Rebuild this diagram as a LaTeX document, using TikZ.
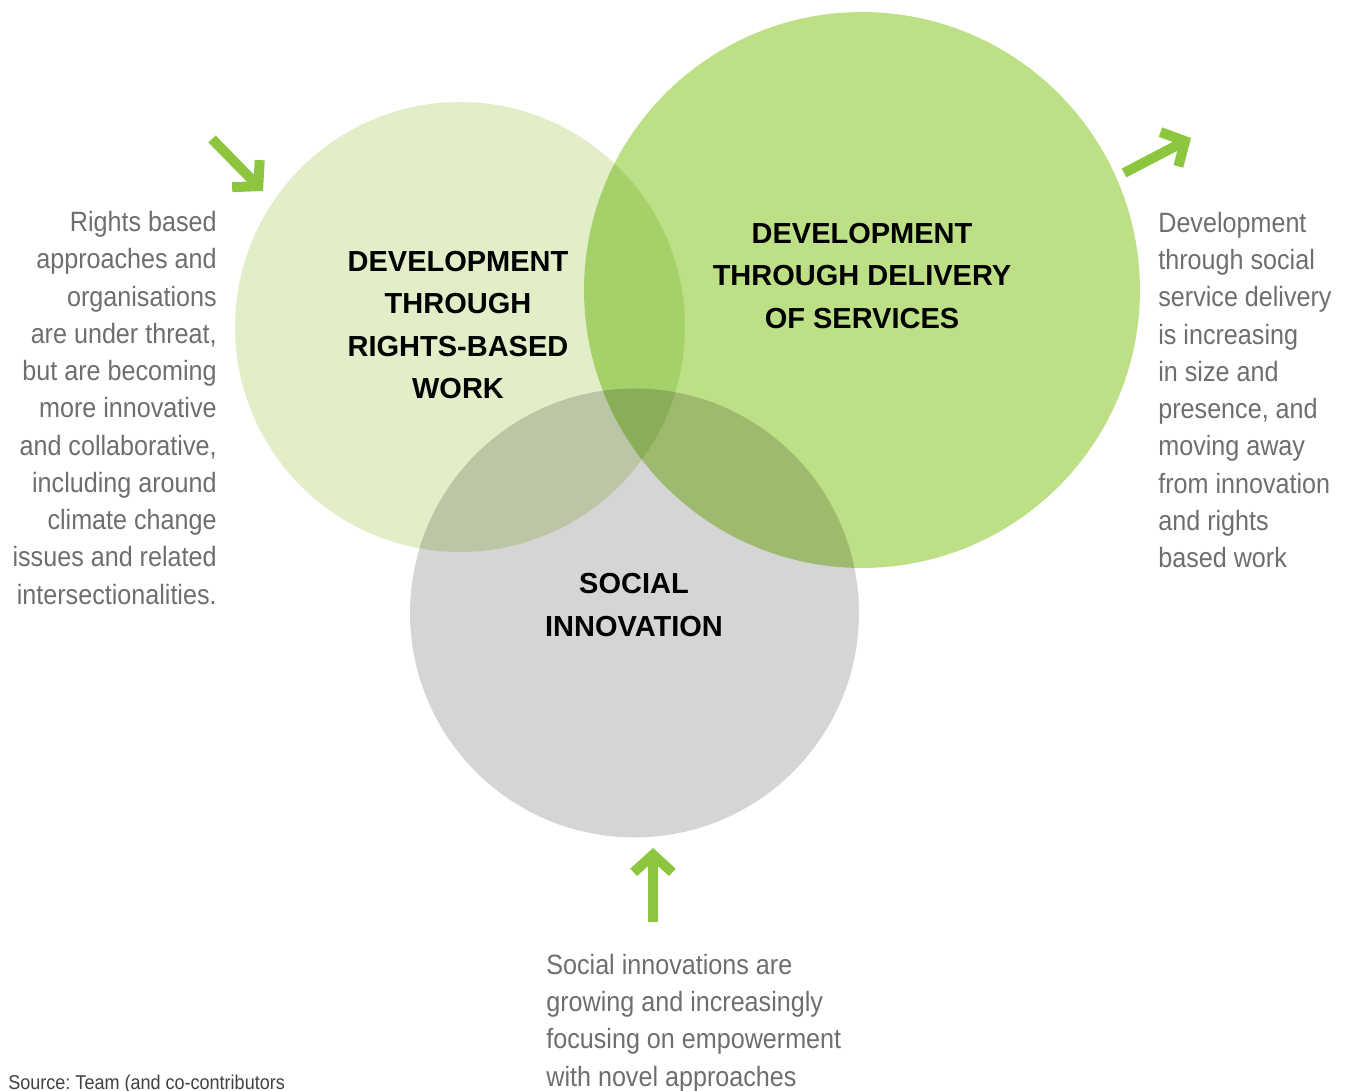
\documentclass[tikz,border=0pt]{standalone}
\usepackage{fontspec}
\setmainfont{Liberation Sans}
\newfontfamily\notefont[FakeStretch=0.9]{Liberation Sans}
\usetikzlibrary{positioning, arrows.meta}
\definecolor{rights_green}{RGB}{225, 238, 200}
\definecolor{services_green}{RGB}{189, 223, 134}
\definecolor{innovation_grey}{RGB}{213, 213, 213}
\definecolor{arrow_green}{RGB}{140, 198, 63}
\definecolor{note_grey}{RGB}{109, 110, 113}
\tikzstyle{venn}=[circle, inner sep=0pt]
\tikzstyle{heading}=[font=\bfseries\fontsize{16.5}{24.2}\selectfont, align=center, text=black, inner sep=0pt]
\tikzstyle{note}=[font=\notefont\fontsize{15.9}{21.2}\selectfont, text=note_grey, inner sep=0pt]
\tikzstyle{trend}=[draw=arrow_green, line width=5.7pt, -{Straight Barb[length=10pt, width=22pt]}]

\begin{document}
\begin{tikzpicture}[x=0.02cm, y=-0.02cm]
    \useasboundingbox (0, 0) rectangle (1346, 1091);
    % the three fields, overlaps come from multiplying the fills
    \begin{scope}[blend group=multiply]
        \node[venn, fill=rights_green, minimum size=9cm] (rights) at (460, 327) {};
        \node[venn, fill=services_green, minimum size=11.12cm] (services) at (862, 290) {};
        \node[venn, fill=innovation_grey, minimum size=8.98cm] (innovation) at (634.5, 613) {};
    \end{scope}
    \node[heading] (rights_label) at (458, 325) {DEVELOPMENT\\THROUGH\\RIGHTS-BASED\\WORK};
    \node[heading] (services_label) at (862, 276) {DEVELOPMENT\\THROUGH DELIVERY\\OF SERVICES};
    \node[heading] (innovation_label) at (634, 605) {SOCIAL\\INNOVATION};
    % trends
    \node[note, anchor=east, align=right] (rights_note) at (217, 408) {Rights based\\approaches and\\organisations\\are under threat,\\but are becoming\\more innovative\\and collaborative,\\including around\\climate change\\issues and related\\intersectionalities.};
    \node[note, anchor=west, align=left] (services_note) at (1158, 390) {Development\\through social\\service delivery\\is increasing\\in size and\\presence, and\\moving away\\from innovation\\and rights\\based work};
    \node[note, anchor=west, align=left] (innovation_note) at (546, 1023) {Social innovations are\\growing and increasingly\\focusing on empowerment\\with novel approaches};
    \coordinate (rights_tail) at (212, 139);
    \coordinate (rights_tip) at (263, 191);
    \coordinate (services_tail) at (1124, 173);
    \coordinate (services_tip) at (1191, 138);
    \coordinate (innovation_tail) at (653, 922);
    \coordinate (innovation_tip) at (653, 848);
    \draw[trend] (rights_tail) -- (rights_tip);
    \draw[trend] (services_tail) -- (services_tip);
    \draw[trend] (innovation_tail) -- (innovation_tip);
    \node[anchor=base west, inner sep=0pt, font=\notefont\fontsize{11.4}{12}\selectfont, text=black!75] (source) at (8, 1089) {Source:\ Team (and co-contributors};
\end{tikzpicture}
\end{document}
